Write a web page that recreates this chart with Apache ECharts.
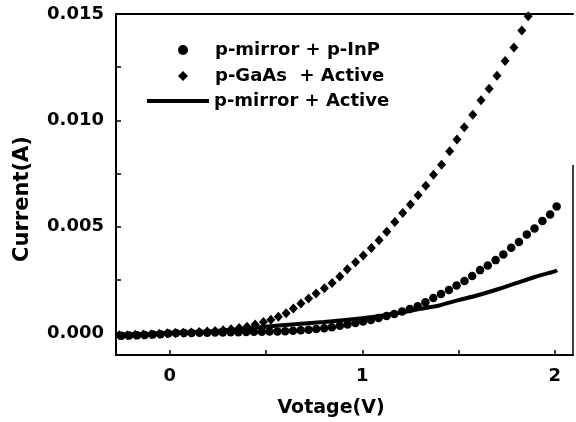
<!DOCTYPE html>
<html><head><meta charset="utf-8">
<script src="https://cdn.jsdelivr.net/npm/echarts@6/dist/echarts.min.js"></script>
<style>html,body{margin:0;padding:0;background:#fff}#c{width:576px;height:422px}</style>
</head><body><div id="c"></div>
<script>
// Series names
const names = ['p-mirror + p-InP', 'p-GaAs  + Active', 'p-mirror + Active'];
// p-mirror + p-InP (circles)
const inpV = [-0.292,-0.251,-0.211,-0.170,-0.130,-0.089,-0.049,-0.008,0.032,0.073,0.113,0.154,0.194,0.235,0.275,0.316,0.356,0.397,0.437,0.478,0.518,0.559,0.599,0.640,0.680,0.721,0.761,0.802,0.842,0.883,0.923,0.964,1.004,1.045,1.085,1.126,1.166,1.207,1.247,1.288,1.328,1.369,1.409,1.450,1.490,1.531,1.571,1.612,1.652,1.693,1.733,1.774,1.814,1.855,1.895,1.936,1.976,2.010];
const inpI = [-0.00012,-0.00012,-0.00011,-0.0001,-0.00009,-0.00007,-0.00005,-0.00002,0,0.00001,0.00001,0.00002,0.00002,0.00003,0.00003,0.00004,0.00004,0.00005,0.00006,0.00006,0.00007,0.00008,0.00009,0.00011,0.00013,0.00016,0.00019,0.00023,0.00028,0.00034,0.0004,0.00047,0.00054,0.00062,0.00071,0.0008,0.0009,0.00101,0.00113,0.00126,0.00145,0.00165,0.00184,0.00202,0.00224,0.00245,0.00268,0.00296,0.00318,0.00343,0.0037,0.00401,0.00428,0.00464,0.00492,0.00527,0.00558,0.00595];
// p-GaAs + Active (diamonds)
const gaasV = [-0.263,-0.221,-0.180,-0.138,-0.097,-0.055,-0.014,0.028,0.069,0.111,0.152,0.194,0.235,0.277,0.318,0.360,0.401,0.443,0.486,0.525,0.564,0.604,0.642,0.681,0.721,0.760,0.803,0.843,0.883,0.922,0.965,1.005,1.047,1.087,1.127,1.169,1.210,1.250,1.290,1.330,1.370,1.412,1.454,1.492,1.530,1.574,1.617,1.659,1.700,1.742,1.788,1.829,1.862];
const gaasI = [-0.0001,-0.0001,-0.00008,-0.00007,-0.00005,-0.00003,-0.00001,0.00001,0.00002,0.00003,0.00005,0.00007,0.0001,0.00013,0.00018,0.00024,0.0003,0.0004,0.00052,0.00063,0.00077,0.00093,0.00116,0.00139,0.00163,0.00186,0.00211,0.00236,0.00266,0.00300,0.00333,0.00365,0.00400,0.00436,0.00476,0.00522,0.00565,0.00605,0.00648,0.00693,0.00744,0.00791,0.00855,0.00910,0.00968,0.01026,0.01095,0.01149,0.01210,0.01279,0.01343,0.01422,0.01489];
// p-mirror + Active (solid line)
const activeV = [-0.28,-0.2,-0.1,0,0.1,0.2,0.3,0.4,0.5,0.6,0.7,0.8,0.9,1.0,1.1,1.2,1.3,1.4,1.5,1.6,1.7,1.8,1.9,2.0,2.012];
const activeI = [-0.00008,-0.00006,-0.00003,0.00001,0.00004,0.00008,0.00014,0.00022,0.0003,0.00038,0.00045,0.00052,0.0006,0.0007,0.00082,0.00097,0.00114,0.0013,0.00155,0.00178,0.00205,0.00235,0.00265,0.0029,0.00296];
// Axis ticks / labels
const xTicks = [0, 0.5, 1, 1.5, 2];
const xLabels = [0, 1, 2];
const yTicks = [0, 0.0025, 0.005, 0.0075, 0.01, 0.0125, 0.015];
const yLabels = [0, 0.005, 0.01, 0.015];
const xTitle = 'Votage(V)';
const yTitle = 'Current(A)';

const zip = (a, b) => a.map((v, i) => [v, b[i]]);
const FONT = 'DejaVu Sans';
const chart = echarts.init(document.getElementById('c'), null, {renderer: 'canvas'});
const legendText = {fontFamily: FONT, fontWeight: 'bold', fontSize: 18, color: '#000', lineHeight: 20};
const legendTextPad = Object.assign({}, legendText, {padding: [0, 0, 0, 22]});
chart.setOption({
  animation: false,
  backgroundColor: '#fff',
  grid: {left: 116, top: 14, width: 457, height: 341, containLabel: false},
  xAxis: [{
    type: 'value', min: -0.28, max: 2.095,
    axisLine: {show: true, onZero: false, lineStyle: {color: '#000', width: 2}},
    axisTick: {show: true, inside: true, length: 5, customValues: xTicks, lineStyle: {color: '#000', width: 1.5}},
    axisLabel: {customValues: xLabels, margin: 12, fontFamily: FONT, fontWeight: 'bold', fontSize: 18, color: '#000', formatter: v => String(v)},
    splitLine: {show: false}
  }, {
    type: 'value', position: 'top', min: -0.28, max: 2.095,
    axisLine: {show: true, onZero: false, lineStyle: {color: '#000', width: 2}},
    axisTick: {show: false}, axisLabel: {show: false}, splitLine: {show: false}
  }],
  yAxis: [{
    type: 'value', min: -0.00103, max: 0.015,
    axisLine: {show: true, onZero: false, lineStyle: {color: '#000', width: 2}},
    axisTick: {show: true, inside: true, length: 5, customValues: yTicks, lineStyle: {color: '#000', width: 1.5}},
    axisLabel: {customValues: yLabels, margin: 12, fontFamily: FONT, fontWeight: 'bold', fontSize: 18, color: '#000', formatter: v => v.toFixed(3)},
    splitLine: {show: false}
  }],
  legend: [{
    left: 173, top: 35, itemWidth: 10, itemHeight: 10, selectedMode: false,
    data: [{name: names[0], icon: 'circle', itemStyle: {color: '#000', opacity: 1}}], textStyle: legendTextPad
  }, {
    left: 173, top: 61, itemWidth: 10, itemHeight: 10, selectedMode: false,
    data: [{name: names[1], icon: 'diamond', itemStyle: {color: '#000', opacity: 1}}], textStyle: legendTextPad
  }, {
    left: 142, top: 86, itemWidth: 62, itemHeight: 4, selectedMode: false,
    data: [{name: names[2], icon: 'rect', itemStyle: {color: '#000', opacity: 1}}], textStyle: legendText
  }],
  graphic: [
    {type: 'text', x: 331, y: 408, style: {text: xTitle, fontFamily: FONT, fontWeight: 'bold', fontSize: 19, fill: '#000', align: 'center', verticalAlign: 'middle'}},
    {type: 'text', x: 23, y: 199, rotation: Math.PI / 2, style: {text: yTitle, fontFamily: FONT, fontWeight: 'bold', fontSize: 21, fill: '#000', align: 'center', verticalAlign: 'middle'}},
    {type: 'line', shape: {x1: 573, y1: 165, x2: 573, y2: 356}, style: {stroke: '#000', lineWidth: 1.5}}
  ],
  series: [{
    name: names[2], type: 'line', data: zip(activeV, activeI), showSymbol: false, symbol: 'none', smooth: 0.3,
    lineStyle: {color: '#000', width: 4}, itemStyle: {color: '#000'}, z: 2
  }, {
    name: names[0], type: 'scatter', data: zip(inpV, inpI), symbol: 'circle', symbolSize: 8.5,
    itemStyle: {color: '#000', opacity: 1}, z: 3
  }, {
    name: names[1], type: 'scatter', data: zip(gaasV, gaasI), symbol: 'diamond', symbolSize: [9, 10],
    itemStyle: {color: '#000', opacity: 1}, z: 3
  }]
});
</script></body></html>
